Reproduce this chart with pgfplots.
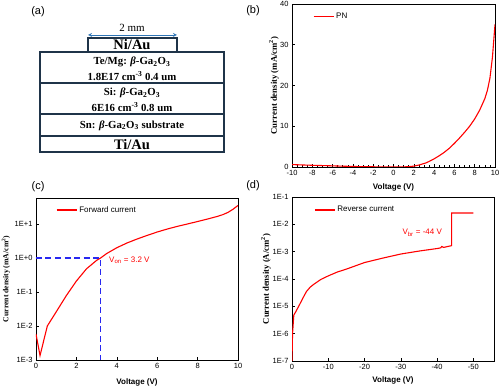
\documentclass[border=0pt]{standalone}
\usepackage{fontspec}
\setmainfont{Liberation Serif}
\setsansfont{Liberation Sans}
\usepackage{pgfplots}
\pgfplotsset{compat=1.18}
\definecolor{boxc}{HTML}{1F3449}
\definecolor{arrc}{HTML}{2E75B6}
\definecolor{dblue}{HTML}{2828F0}
\pgfplotsset{
  myax/.style={
    scale only axis,
    anchor=south west,
    tick pos=left,
    tick align=inside,
    major tick length=3pt,
    minor tick length=1.6pt,
    axis line style={line width=0.8pt},
    every tick/.style={black, line width=0.6pt},
    tick label style={font=\sffamily\fontsize{7.5}{8}\selectfont},
    /pgf/number format/assume math mode=true,
    xlabel style={font=\sffamily\bfseries\fontsize{8}{9}\selectfont, anchor=center},
    ylabel style={anchor=center},
    legend style={draw=none, fill=none, font=\sffamily\fontsize{8}{9}\selectfont, anchor=west, inner sep=0pt, legend cell align=left},
    legend image code/.code={\draw[##1] (0pt,0pt) -- (20pt,0pt);},
    yminorticks=false,
  }
}
\begin{document}
\begin{tikzpicture}
\useasboundingbox (0pt,0pt) rectangle (500pt,387pt);
% ---------------- panel (a) schematic ----------------
\node[font=\sffamily\fontsize{11}{12}\selectfont] at (38pt,375pt) {(a)};
\draw[boxc, line width=1.3pt] (88pt,335pt) rectangle (177pt,349pt);
\draw[boxc, line width=1.3pt] (40pt,304pt) rectangle (224pt,335pt);
\draw[boxc, line width=1.3pt] (40pt,273pt) rectangle (224pt,304pt);
\draw[boxc, line width=1.3pt] (40pt,251pt) rectangle (224pt,273pt);
\draw[boxc, line width=1.3pt] (40pt,235pt) rectangle (224pt,251pt);
\draw[arrc, line width=0.8pt, <->, >=stealth] (88pt,352pt) -- (177pt,352pt);
\node[font=\rmfamily\fontsize{11}{12}\selectfont] at (132pt,359.5pt) {2 mm};
\node[font=\rmfamily\bfseries\fontsize{14.5}{15}\selectfont] at (132pt,342pt) {Ni/Au};
\node[font=\rmfamily\bfseries\fontsize{10.8}{11}\selectfont] at (132pt,325pt) {Te/Mg: \textit{β}-Ga\textsubscript{2}O\textsubscript{3}};
\node[font=\rmfamily\bfseries\fontsize{10.8}{11}\selectfont] at (132pt,311pt) {1.8E17 cm\textsuperscript{-3} 0.4 um};
\node[font=\rmfamily\bfseries\fontsize{10.8}{11}\selectfont] at (132pt,294pt) {Si: \textit{β}-Ga\textsubscript{2}O\textsubscript{3}};
\node[font=\rmfamily\bfseries\fontsize{10.8}{11}\selectfont] at (132pt,280pt) {6E16 cm\textsuperscript{-3} 0.8 um};
\node[font=\rmfamily\bfseries\fontsize{10.8}{11}\selectfont] at (132pt,261.5pt) {Sn: \textit{β}-Ga\textsubscript{2}O\textsubscript{3} substrate};
\node[font=\rmfamily\bfseries\fontsize{14.5}{15}\selectfont] at (132pt,242.5pt) {Ti/Au};
% ---------------- panel labels ----------------
\node[font=\sffamily\fontsize{11}{12}\selectfont] at (253pt,376pt) {(b)};
\node[font=\sffamily\fontsize{11}{12}\selectfont] at (38pt,200pt) {(c)};
\node[font=\sffamily\fontsize{11}{12}\selectfont] at (253pt,201pt) {(d)};
% ---------------- panel (b) ----------------
\begin{axis}[myax, at={(292pt,220pt)}, width=203pt, height=163pt,
  xmin=-10, xmax=10, ymin=0, ymax=40,
  xtick={-10,-8,...,10}, ytick={0,10,20,30,40},
  minor x tick num=3,
  xlabel={Voltage (V)}, ylabel={Current density (mA/cm\textsuperscript{2})},
  xlabel style={at={(axis description cs:0.5,-0.123)}},
  ylabel style={at={(axis description cs:-0.089,0.5)}, font=\rmfamily\bfseries\fontsize{8.7}{9}\selectfont},
  legend style={at={(axis description cs:0.103,0.926)}},
]
\addplot[red, line width=1.1pt] coordinates {
(-10,0.6) (-9,0.5) (-8,0.42) (-7,0.35) (-6,0.28) (-5,0.2) (-4,0.13) (-3,0.08)
(-2,0.05) (-1,0.03) (0,0.01) (0.5,0.01) (1,0.03) (1.5,0.08) (2,0.21) (2.5,0.48)
(3,0.85) (3.2,1.0) (3.5,1.35) (4,2.0) (4.5,2.75) (5,3.6) (5.5,4.6) (6,5.8)
(6.5,7.1) (7,8.5) (7.5,10.0) (8,11.8) (8.5,14.0) (9,16.8) (9.25,18.8) (9.5,21.8)
(9.75,27) (10,35)};
\addlegendentry{PN}
\end{axis}
% ---------------- panel (c) ----------------
\begin{axis}[myax, at={(36pt,27pt)}, width=202pt, height=162pt,
  ymode=log, xmin=0, xmax=10, ymin=1e-3, ymax=58,
  xtick={0,2,4,6,8,10},
  ytick={1e-3,1e-2,1e-1,1,10}, yticklabels={1E-3,1E-2,1E-1,1E+0,1E+1},
  xlabel={Voltage (V)}, ylabel={Current density (mA/cm\textsuperscript{2})},
  xlabel style={at={(axis description cs:0.5,-0.136)}},
  ylabel style={at={(axis description cs:-0.149,0.5)}, font=\rmfamily\bfseries\fontsize{7.7}{8}\selectfont},
  legend style={at={(axis description cs:0.099,0.926)}},
]
\addplot[red, line width=1.1pt] coordinates {
(0,5.8e-3) (0.2,1.35e-3) (0.56,1e-2) (1,2.6e-2) (1.5,7.8e-2) (2,0.21) (2.5,0.48)
(3,0.85) (3.2,1.0) (3.5,1.35) (4,2.0) (4.5,2.75) (5,3.6) (5.5,4.6) (6,5.8)
(6.5,7.1) (7,8.5) (7.5,10.0) (8,11.8) (8.5,14.0) (9,16.8) (9.25,18.8) (9.5,21.8)
(9.75,27) (10,35)};
\addlegendentry{Forward current}
\addplot[dblue, line width=1.2pt, dash pattern=on 6pt off 3.5pt, forget plot] coordinates {(0,1) (3.2,1) (3.2,1e-3)};
\node[anchor=west, text=red, font=\sffamily\fontsize{8}{9}\selectfont] at (axis cs:3.45,0.85) {V\textsubscript{on} = 3.2 V};
\end{axis}
% ---------------- panel (d) ----------------
\begin{axis}[myax, at={(292pt,26pt)}, width=202pt, height=164pt,
  ymode=log, x dir=reverse, xmin=-55.7, xmax=0, ymin=1e-7, ymax=1e-1,
  xtick={0,-10,-20,-30,-40,-50},
  ytick={1e-7,1e-6,1e-5,1e-4,1e-3,1e-2,1e-1},
  yticklabels={1E-7,1E-6,1E-5,1E-4,1E-3,1E-2,1E-1},
  xlabel={Voltage (V)}, ylabel={Current density (A/cm\textsuperscript{2})},
  xlabel style={at={(axis description cs:0.5,-0.116)}},
  ylabel style={at={(axis description cs:-0.129,0.5)}, font=\rmfamily\bfseries\fontsize{8.7}{9}\selectfont},
  legend style={at={(axis description cs:0.109,0.921)}},
]
\addplot[red, line width=1.1pt] coordinates {
(0,1e-7) (-0.15,1e-6) (-0.5,4.8e-6) (-1,6.2e-6) (-2,1.1e-5) (-3,2e-5) (-4,3.5e-5)
(-5,5e-5) (-6,6.4e-5) (-8,9.7e-5) (-10,1.3e-4) (-12.5,1.8e-4) (-15,2.3e-4)
(-20,4.0e-4) (-25,5.8e-4) (-30,8.2e-4) (-35,1.05e-3) (-40.3,1.32e-3) (-41,1.38e-3)
(-41.3,1.55e-3) (-41.7,1.45e-3) (-42,1.45e-3) (-44,1.66e-3) (-44,2.6e-2) (-50,2.6e-2)};
\addlegendentry{Reverse current}
\node[anchor=west, text=red, font=\sffamily\fontsize{8}{9}\selectfont] at (axis cs:-29.5,4.8e-3) {V\textsubscript{br} = -44 V};
\end{axis}
\end{tikzpicture}
\end{document}
